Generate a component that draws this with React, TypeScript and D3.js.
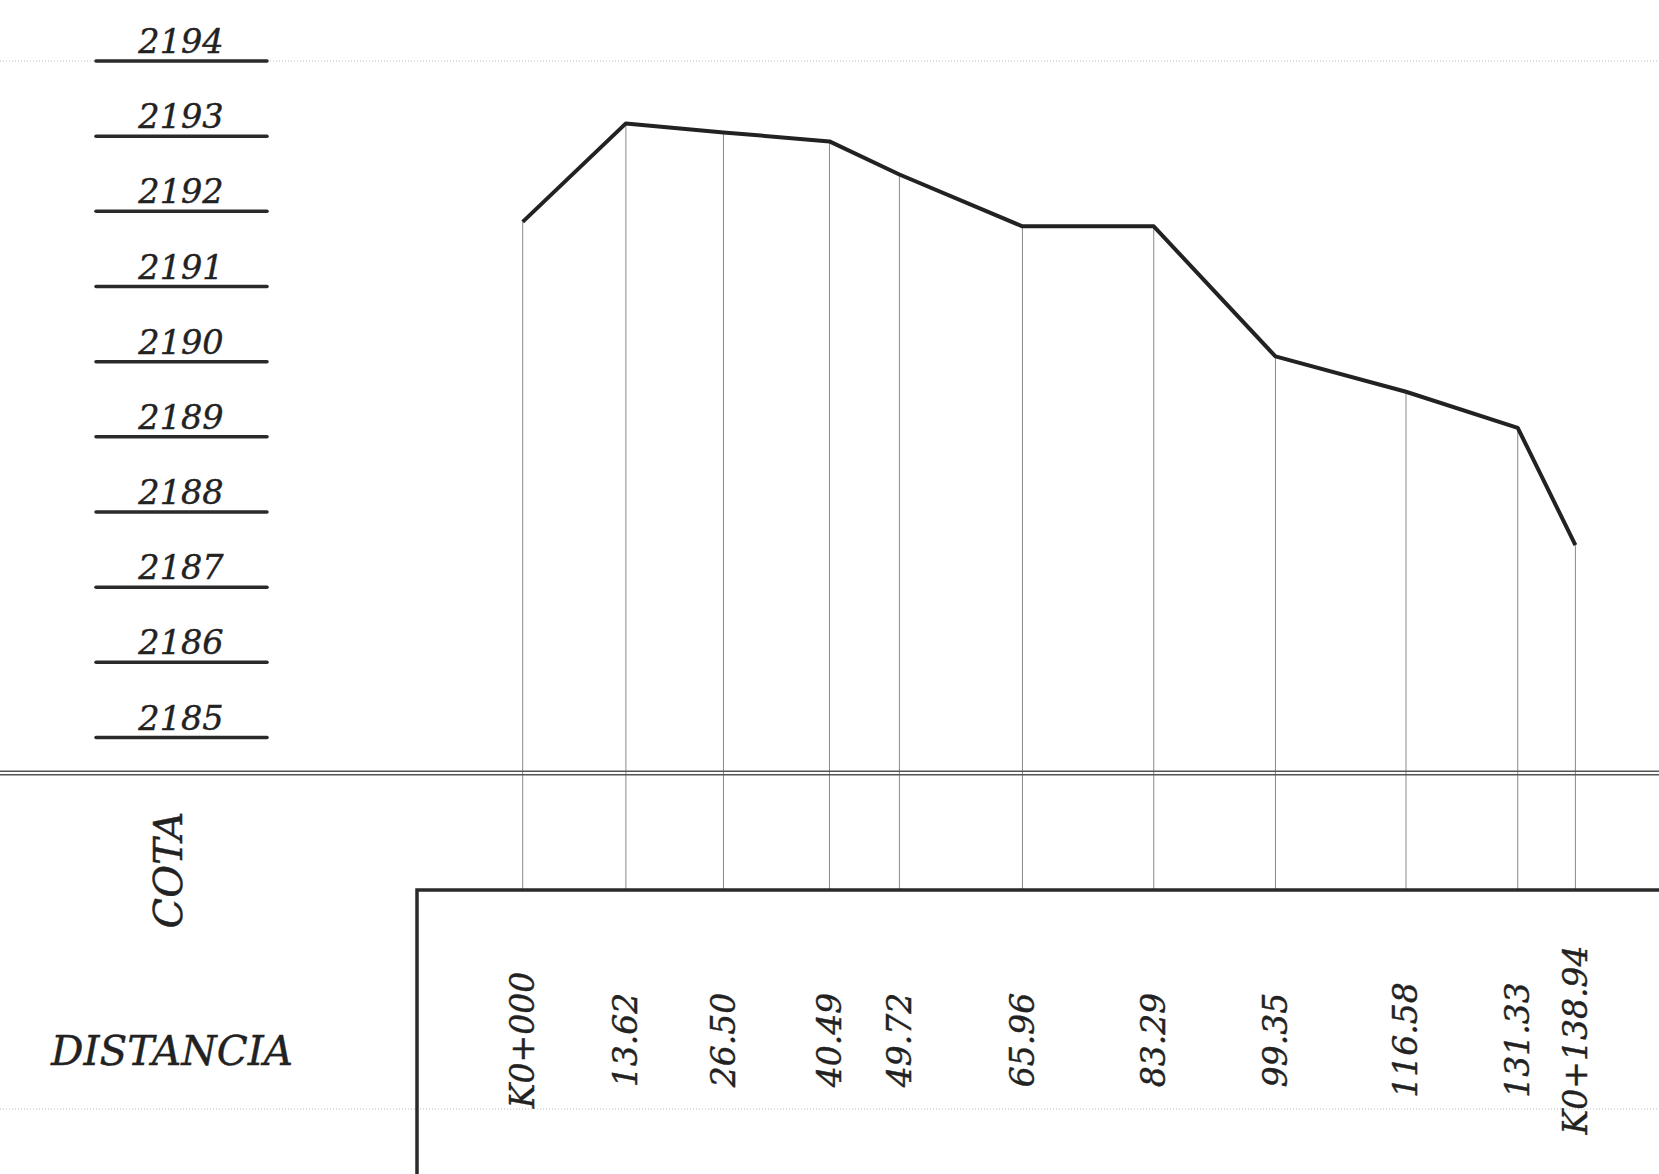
import * as d3 from "d3";
import { useEffect, useRef } from "react";

// profile stations (m) and ground elevations
const stations = [0, 13.62, 26.5, 40.49, 49.72, 65.96, 83.29, 99.35, 116.58, 131.33, 138.94];
const stationLabels = ["K0+000", "13.62", "26.50", "40.49", "49.72", "65.96", "83.29", "99.35", "116.58", "131.33", "K0+138.94"];
const elevations = [2191.86, 2193.17, 2193.05, 2192.93, 2192.49, 2191.8, 2191.8, 2190.07, 2189.6, 2189.12, 2187.56];
const elevationTicks = [2194, 2193, 2192, 2191, 2190, 2189, 2188, 2187, 2186, 2185];

const W = 1659;
const H = 1174;
const FONT = "'DejaVu Serif', serif";

const Profile = () => {
    const svgRef = useRef<SVGSVGElement | null>(null);

    useEffect(() => {
        if (!svgRef.current) return;
        document.body.style.margin = "0";

        const svg = d3.select(svgRef.current).attr("width", W).attr("height", H);
        svg.selectAll("*").remove();

        const x = d3.scaleLinear().domain([0, 138.94]).range([522.7, 1575.4]);
        const y = d3.scaleLinear().domain([2185, 2194]).range([737.5, 61]);

        const bandY = 773;   // double line under the profile
        const boxTop = 890;  // top of the DISTANCIA box
        const boxLeft = 417;

        // small helper so every label gets the same look
        const styleText = (sel: any, size: number) => sel
            .attr("font-family", FONT)
            .attr("font-style", "italic")
            .attr("font-size", size)
            .attr("fill", "#222")
            .attr("stroke", "#222")
            .attr("stroke-width", 0.4);

        // light dotted guides
        [y(2194), 1109].forEach((gy) => {
            svg.append("line")
                .attr("x1", 0).attr("x2", W)
                .attr("y1", gy).attr("y2", gy)
                .attr("stroke", "#bbb")
                .attr("stroke-width", 1)
                .attr("stroke-dasharray", "1,2");
        });

        // elevation ticks: label + underline
        const ticks = svg.append("g");
        elevationTicks.forEach((t) => {
            ticks.append("line")
                .attr("x1", 96).attr("x2", 267)
                .attr("y1", y(t)).attr("y2", y(t))
                .attr("stroke", "#2a2a2a")
                .attr("stroke-width", 3.5)
                .attr("stroke-linecap", "round");
            ticks.append("text")
                .attr("x", 181)
                .attr("y", y(t) - 8)
                .attr("text-anchor", "middle")
                .call(styleText, 33.5)
                .text(t);
        });

        // station verticals
        svg.append("g")
            .selectAll("line")
            .data(stations)
            .enter()
            .append("line")
            .attr("x1", (d) => x(d)).attr("x2", (d) => x(d))
            .attr("y1", (d, i) => y(elevations[i]))
            .attr("y2", boxTop)
            .attr("stroke", "#8a8a8a")
            .attr("stroke-width", 1);

        // ground profile
        const line = d3.line<number>()
            .x((d) => x(d))
            .y((d, i) => y(elevations[i]));
        svg.append("path")
            .datum(stations)
            .attr("d", line)
            .attr("fill", "none")
            .attr("stroke", "#222")
            .attr("stroke-width", 4)
            .attr("stroke-linejoin", "round");

        // double rule
        [bandY - 1.75, bandY + 1.75].forEach((gy) => {
            svg.append("line")
                .attr("x1", 0).attr("x2", W)
                .attr("y1", gy).attr("y2", gy)
                .attr("stroke", "#555")
                .attr("stroke-width", 1.5);
        });

        // distance box
        svg.append("path")
            .attr("d", `M${boxLeft},${H} V${boxTop} H${W}`)
            .attr("fill", "none")
            .attr("stroke", "#2a2a2a")
            .attr("stroke-width", 3.5);

        // row titles
        svg.append("text")
            .attr("transform", `translate(168,870) rotate(-90)`)
            .attr("text-anchor", "middle")
            .attr("dominant-baseline", "central")
            .call(styleText, 40)
            .text("COTA");

        svg.append("text")
            .attr("x", 172)
            .attr("y", 1065)
            .attr("text-anchor", "middle")
            .call(styleText, 40.5)
            .text("DISTANCIA");

        // distance labels
        svg.append("g")
            .selectAll("text")
            .data(stations)
            .enter()
            .append("text")
            .attr("transform", (d) => `translate(${x(d)},1040) rotate(-90)`)
            .attr("text-anchor", "middle")
            .attr("dominant-baseline", "central")
            .call(styleText, 33)
            .text((d, i) => stationLabels[i]);
    }, []);

    return <svg ref={svgRef} style={{ display: "block" }} />;
};

export default function App() {
    return <Profile />;
}
